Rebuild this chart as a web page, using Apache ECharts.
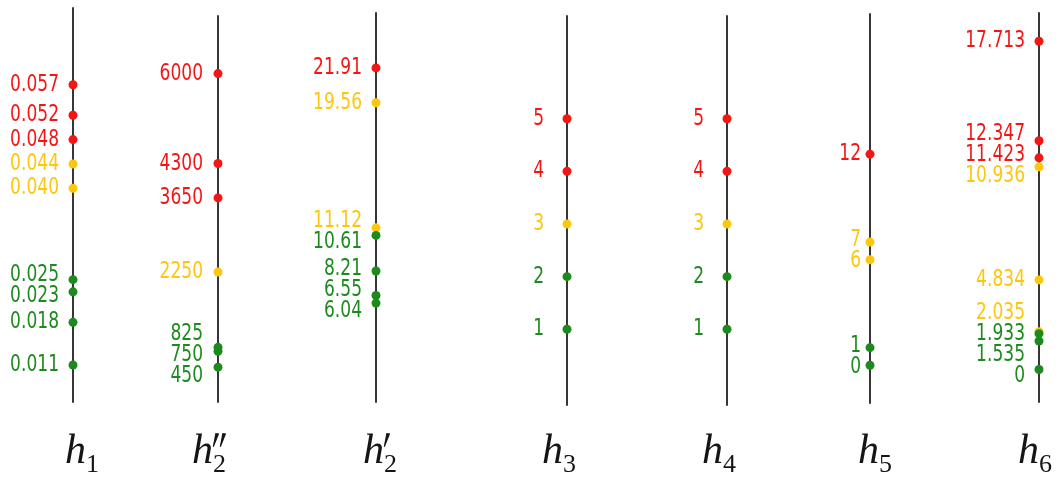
<!DOCTYPE html>
<html><head><meta charset="utf-8">
<script src="https://cdn.jsdelivr.net/npm/echarts@6/dist/echarts.min.js"></script>
<style>html,body{margin:0;padding:0;background:#fff}#c{width:1059px;height:478px}</style>
</head><body><div id="c"></div>
<script>
// ---------- data: values printed next to each dot, grouped by level ----------
const h1High = ['0.057', '0.052', '0.048'];
const h1Mid = ['0.044', '0.040'];
const h1Low = ['0.025', '0.023', '0.018', '0.011'];

const h2ppHigh = ['6000', '4300', '3650'];
const h2ppMid = ['2250'];
const h2ppLow = ['825', '750', '450'];

const h2pHigh = ['21.91'];
const h2pMid = ['19.56', '11.12'];
const h2pLow = ['10.61', '8.21', '6.55', '6.04'];

const h3High = ['5', '4'];
const h3Mid = ['3'];
const h3Low = ['2', '1'];

const h4High = ['5', '4'];
const h4Mid = ['3'];
const h4Low = ['2', '1'];

const h5High = ['12'];
const h5Mid = ['7', '6'];
const h5Low = ['1', '0'];

const h6High = ['17.713', '12.347', '11.423'];
const h6Mid = ['10.936', '4.834', '2.035'];
const h6Low = ['1.933', '1.535', '0'];

// value range of each vertical scale
const axisMin = [0.00492, -208, -0.634, -0.438, -0.438, -2.144, -1.754];
const axisMax = [0.0696, 7089, 25.617, 6.951, 6.951, 19.966, 19.239];

// ---------- layout / style ----------
const axes = [
  [h1High, h1Mid, h1Low],
  [h2ppHigh, h2ppMid, h2ppLow],
  [h2pHigh, h2pMid, h2pLow],
  [h3High, h3Mid, h3Low],
  [h4High, h4Mid, h4Low],
  [h5High, h5Mid, h5Low],
  [h6High, h6Mid, h6Low]
];
const axisX = [73, 218, 376, 567, 727, 870, 1039];
const axisTop = [8, 16, 13, 16, 16, 14, 13];
const axisBottom = [402, 402, 402, 405, 405, 403, 402];
const labelDist = [14, 15, 14, 23, 23, 9, 14];
const levelColors = ['#f51515', '#fcc70c', '#1d8a1d'];
const labelFont = "19px 'DejaVu Sans Condensed', 'DejaVu Sans', sans-serif";
const labelScaleY = 1.22;
const labelGap = 21;

const chart = echarts.init(document.getElementById('c'), null, {renderer: 'canvas'});

const grids = [], xAxes = [], yAxes = [];
axes.forEach((a, i) => {
  grids.push({left: axisX[i], top: axisTop[i], width: 10, height: axisBottom[i] - axisTop[i]});
  xAxes.push({type: 'value', gridIndex: i, min: 0, max: 1, show: false});
  yAxes.push({
    type: 'value', gridIndex: i, min: axisMin[i], max: axisMax[i],
    axisLine: {show: true, onZero: false, lineStyle: {color: '#363636', width: 2}},
    axisTick: {show: false}, axisLabel: {show: false}, splitLine: {show: false}
  });
});

function buildSeries(offsets) {
  const series = [];
  axes.forEach((levels, i) => {
    levels.forEach((vals, L) => {
      const color = levelColors[L];
      // dots
      series.push({
        type: 'scatter', xAxisIndex: i, yAxisIndex: i,
        symbol: 'circle', symbolSize: 9,
        itemStyle: {color: color, opacity: 1},
        emphasis: {disabled: true}, silent: true,
        data: vals.map(s => ({name: s, value: [0, Number(s)]}))
      });
      // value labels (taller glyphs, like the reference)
      series.push({
        type: 'custom', xAxisIndex: i, yAxisIndex: i, silent: true,
        data: vals.map(s => ({name: s, value: [0, Number(s)]})),
        renderItem: (params, api) => {
          const p = api.coord([api.value(0), api.value(1)]);
          const k = params.dataIndex;
          const dy = offsets ? offsets[i][L][k] : 0;
          return {
            type: 'text', x: p[0] - labelDist[i], y: p[1] + dy, scaleY: labelScaleY,
            style: {text: vals[k], font: labelFont, fill: color, align: 'right', verticalAlign: 'middle'}
          };
        }
      });
    });
  });
  return series;
}

// axis titles (math-style)
const hFont = 'italic 42px "Liberation Serif", "DejaVu Serif", serif';
const subFont = '26px "Liberation Serif", "DejaVu Serif", serif';
const titleX = [65, 192, 363, 542, 702, 858, 1018];
const titleSub = ['1', '2', '2', '3', '4', '5', '6'];
const titlePrimes = [0, 2, 1, 0, 0, 0, 0];
const graphic = [];
titleX.forEach((x, i) => {
  graphic.push({type: 'text', x: x, y: 452, silent: true,
    style: {text: 'h', font: hFont, fill: '#151515', align: 'left', verticalAlign: 'middle'}});
  graphic.push({type: 'text', x: x + 21, y: 465, silent: true,
    style: {text: titleSub[i], font: subFont, fill: '#151515', align: 'left', verticalAlign: 'middle'}});
  for (let q = 0; q < titlePrimes[i]; q++) {
    const px = x + 25 + q * 7;
    graphic.push({type: 'polygon', silent: true,
      shape: {points: [[px - 1.6, 433], [px + 2.2, 433.5], [px - 3.2, 447], [px - 4.2, 446.6]]},
      style: {fill: '#151515'}});
  }
});

chart.setOption({
  animation: false,
  backgroundColor: '#ffffff',
  grid: grids, xAxis: xAxes, yAxis: yAxes,
  graphic: graphic,
  series: buildSeries(null)
});

// spread overlapping labels along each axis (using pixel positions from the axis scales)
function spread(ys, gap) {
  const idx = ys.map((y, i) => i).sort((a, b) => ys[a] - ys[b]);
  const groups = [];
  const topOf = g => g.sum / g.m.length - (g.m.length - 1) * gap / 2;
  idx.forEach(i => {
    groups.push({m: [i], sum: ys[i]});
    while (groups.length > 1) {
      const g = groups[groups.length - 1], p = groups[groups.length - 2];
      const pBottom = topOf(p) + (p.m.length - 1) * gap;
      if (topOf(g) - pBottom < gap) {
        p.m = p.m.concat(g.m); p.sum += g.sum; groups.pop();
      } else break;
    }
  });
  const out = [];
  groups.forEach(g => { const t = topOf(g); g.m.forEach((m, k) => { out[m] = t + k * gap; }); });
  return out;
}

const offsets = axes.map((levels, i) => {
  const flat = [];
  levels.forEach((vals, L) => vals.forEach((s, k) => {
    const p = chart.convertToPixel({xAxisIndex: i, yAxisIndex: i}, [0, Number(s)]);
    flat.push({L, k, y: p[1]});
  }));
  const placed = spread(flat.map(f => f.y), labelGap);
  const res = levels.map(v => v.map(() => 0));
  flat.forEach((f, j) => { res[f.L][f.k] = placed[j] - f.y; });
  return res;
});

chart.setOption({series: buildSeries(offsets)});
</script></body></html>
